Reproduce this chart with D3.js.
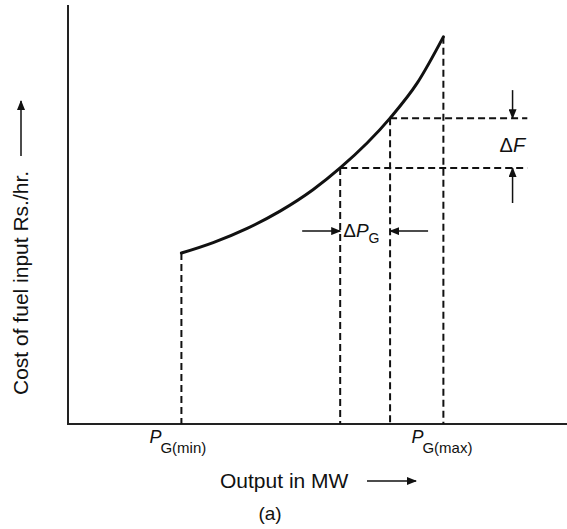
<!DOCTYPE html>
<html>
<head>
<meta charset="utf-8">
<script src="https://cdn.jsdelivr.net/npm/d3@7"></script>
<style>
  body { margin: 0; background: #fff; }
  svg { display: block; }
  text { font-family: "Liberation Sans", Arial, Helvetica, sans-serif; fill: #111; }
</style>
</head>
<body>
<svg id="chart" width="567" height="529"></svg>
<script>
// cost curve (output in MW -> fuel cost Rs./hr.)
const outputMW = [100, 128, 158, 187, 216, 240, 284, 308, 331];
const fuelCost = [408, 433, 467, 508, 559, 611, 730, 814, 924];

// marked outputs: P_G(min), P1, P2 (= P1 + dP_G), P_G(max)
const markedMW = [100, 240, 284, 331];
const hLineEnd = 405; // MW, where the dF dashes stop

const svg = d3.select("#chart");
const ink = "#111";

const x = d3.scaleLinear().domain([0, 440]).range([68, 567]);
const y = d3.scaleLinear().domain([0, 1000]).range([424, 5]);

const costAt = p => fuelCost[outputMW.indexOf(p)];

// arrow head
svg.append("defs").append("marker")
  .attr("id", "head")
  .attr("markerUnits", "userSpaceOnUse")
  .attr("markerWidth", 10).attr("markerHeight", 8)
  .attr("refX", 9).attr("refY", 4)
  .attr("orient", "auto")
  .append("path")
  .attr("d", "M0,0 L10,4 L0,8 Z")
  .attr("fill", ink);

// axes, plain lines only
svg.append("line")
  .attr("x1", x.range()[0]).attr("x2", x.range()[0])
  .attr("y1", y.range()[0]).attr("y2", y.range()[1])
  .attr("stroke", "#222").attr("stroke-width", 2);
svg.append("line")
  .attr("x1", x.range()[0] - 1).attr("x2", x.range()[1])
  .attr("y1", y.range()[0]).attr("y2", y.range()[0])
  .attr("stroke", "#222").attr("stroke-width", 2);

const dash = "7,4";

// vertical dashes down to the axis
svg.selectAll("line.vdash")
  .data(markedMW)
  .join("line")
  .attr("class", "vdash")
  .attr("x1", d => x(d)).attr("x2", d => x(d))
  .attr("y1", d => y(costAt(d))).attr("y2", y(0))
  .attr("stroke", ink).attr("stroke-width", 2)
  .attr("stroke-dasharray", dash);

// horizontal dashes for dF
svg.selectAll("line.hdash")
  .data(markedMW.slice(1, 3))
  .join("line")
  .attr("class", "hdash")
  .attr("x1", d => x(d)).attr("x2", x(hLineEnd))
  .attr("y1", d => y(costAt(d))).attr("y2", d => y(costAt(d)))
  .attr("stroke", ink).attr("stroke-width", 2)
  .attr("stroke-dasharray", dash);

// the cost curve
const line = d3.line()
  .x(d => x(d))
  .y((d, i) => y(fuelCost[i]))
  .curve(d3.curveMonotoneX);

svg.append("path")
  .datum(outputMW)
  .attr("d", line)
  .attr("fill", "none")
  .attr("stroke", ink)
  .attr("stroke-width", 3)
  .attr("stroke-linecap", "round");

// dF arrows
const fx = x(392);
const yHi = y(costAt(markedMW[2])), yLo = y(costAt(markedMW[1]));
svg.append("line")
  .attr("x1", fx).attr("x2", fx).attr("y1", yHi - 28).attr("y2", yHi)
  .attr("stroke", ink).attr("stroke-width", 1.5).attr("marker-end", "url(#head)");
svg.append("line")
  .attr("x1", fx).attr("x2", fx).attr("y1", yLo + 35).attr("y2", yLo)
  .attr("stroke", ink).attr("stroke-width", 1.5).attr("marker-end", "url(#head)");

const dF = svg.append("text")
  .attr("x", fx - 13).attr("y", (yHi + yLo) / 2 + 9)
  .attr("font-size", 20);
dF.append("tspan").text("Δ");
dF.append("tspan").attr("font-style", "italic").text("F");

// dP_G arrows
const py = y(458) - 1;
const p1 = x(markedMW[1]), p2 = x(markedMW[2]);
svg.append("line")
  .attr("x1", p1 - 38).attr("x2", p1).attr("y1", py).attr("y2", py)
  .attr("stroke", ink).attr("stroke-width", 1.5).attr("marker-end", "url(#head)");
svg.append("line")
  .attr("x1", p2 + 38).attr("x2", p2).attr("y1", py).attr("y2", py)
  .attr("stroke", ink).attr("stroke-width", 1.5).attr("marker-end", "url(#head)");

const dP = svg.append("text")
  .attr("x", p1 + 3).attr("y", py + 6)
  .attr("font-size", 19);
dP.append("tspan").text("Δ");
dP.append("tspan").attr("font-style", "italic").text("P");
dP.append("tspan").attr("font-size", 14).attr("dy", 6).text("G");

// P_G(min) / P_G(max) labels
const pLabels = [
  { mw: markedMW[0], sub: "G(min)" },
  { mw: markedMW[3], sub: "G(max)" }
];
pLabels.forEach(l => {
  const t = svg.append("text")
    .attr("x", x(l.mw) - 32).attr("y", 443)
    .attr("font-size", 18);
  t.append("tspan").attr("font-style", "italic").text("P");
  t.append("tspan").attr("font-size", 15).attr("dx", -1).attr("dy", 10).text(l.sub);
});

// axis titles
svg.append("text")
  .attr("x", 220).attr("y", 488)
  .attr("font-size", 21)
  .text("Output in MW");
svg.append("line")
  .attr("x1", 367).attr("x2", 416).attr("y1", 481).attr("y2", 481)
  .attr("stroke", ink).attr("stroke-width", 1.5).attr("marker-end", "url(#head)");

svg.append("text")
  .attr("x", 270).attr("y", 520)
  .attr("text-anchor", "middle")
  .attr("font-size", 19)
  .text("(a)");

svg.append("text")
  .attr("transform", "translate(28,395) rotate(-90)")
  .attr("font-size", 21)
  .text("Cost of fuel input Rs./hr.");
svg.append("line")
  .attr("x1", 21).attr("x2", 21).attr("y1", 156).attr("y2", 101)
  .attr("stroke", ink).attr("stroke-width", 1.5).attr("marker-end", "url(#head)");
</script>
</body>
</html>
